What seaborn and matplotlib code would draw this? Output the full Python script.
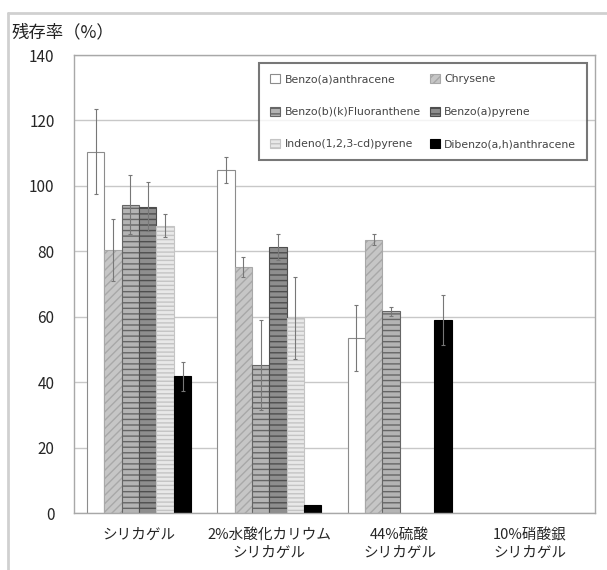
import numpy as np
import pandas as pd
import seaborn as sns
import matplotlib.pyplot as plt
from matplotlib.lines import Line2D

# categories and compounds
categories = ["シリカゲル", "2%水酸化カリウム\nシリカゲル", "44%硫酸\nシリカゲル", "10%硝酸銀\nシリカゲル"]
compounds = ["Benzo(a)anthracene", "Chrysene", "Benzo(b)(k)Fluoranthene",
             "Benzo(a)pyrene", "Indeno(1,2,3-cd)pyrene", "Dibenzo(a,h)anthracene"]

# remaining rate (%) per compound, one value per category
benzo_a_anth = [110.5, 104.8, 53.5, np.nan]
chrysene = [80.3, 75.2, 83.6, np.nan]
benzo_bk_fluor = [94.2, 45.3, 61.6, np.nan]
benzo_a_pyrene = [93.6, 81.4, np.nan, np.nan]
indeno_pyrene = [87.8, 59.6, np.nan, np.nan]
dibenzo_anth = [41.8, 2.4, 59.0, np.nan]

# error bar half widths
err_benzo_a_anth = [13.0, 4.0, 10.0, np.nan]
err_chrysene = [9.5, 3.0, 1.8, np.nan]
err_benzo_bk_fluor = [9.0, 13.7, 1.5, np.nan]
err_benzo_a_pyrene = [7.5, 4.0, np.nan, np.nan]
err_indeno_pyrene = [3.5, 12.5, np.nan, np.nan]
err_dibenzo_anth = [4.5, 0.0, 7.5, np.nan]

values = [benzo_a_anth, chrysene, benzo_bk_fluor, benzo_a_pyrene, indeno_pyrene, dibenzo_anth]
errors = [err_benzo_a_anth, err_chrysene, err_benzo_bk_fluor, err_benzo_a_pyrene,
          err_indeno_pyrene, err_dibenzo_anth]

rows = []
for comp, vals in zip(compounds, values):
    for cat, v in zip(categories, vals):
        rows.append({"category": cat, "compound": comp, "rate": v})
df = pd.DataFrame(rows)

sns.set_style("white")
plt.rcParams['font.family'] = ['Noto Sans CJK JP', 'DejaVu Sans']
plt.rcParams['hatch.linewidth'] = 1.0

fig = plt.figure(figsize=(6.07, 5.70), dpi=100)
ax = fig.add_axes([74/607, 57/570, 521/607, 458/570])

sns.barplot(data=df, x="category", y="rate", hue="compound", order=categories,
            hue_order=compounds, errorbar=None, width=0.8, legend=False, ax=ax)

# face, edge/hatch colour, hatch pattern per compound
faces = ["white", "#c6c6c6", "#b4b4b4", "#8e8e8e", "#e8e8e8", "black"]
edges = ["#8c8c8c", "#a8a8a8", "#666666", "#4e4e4e", "#c4c4c4", "black"]
hatches = [None, "////", "---", "---", "----", None]

bar_conts = list(ax.containers)
for j, cont in enumerate(bar_conts):
    for bar in cont.patches:
        bar.set_facecolor(faces[j])
        bar.set_edgecolor(edges[j])
        bar.set_linewidth(0.8)
        if hatches[j]:
            bar.set_hatch(hatches[j])
        h = bar.get_height()
        if np.isnan(h):
            continue
        xc = bar.get_x() + bar.get_width() / 2
        k = int(round(xc))
        e = errors[j][k]
        if e > 0:
            ax.errorbar(xc, h, yerr=e, fmt="none", ecolor="#777777", elinewidth=0.8,
                        capsize=1.5, capthick=0.8, zorder=4)

ax.set_ylim(0, 140)
ax.set_xlim(-0.5, 3.5)
ax.set_yticks(range(0, 141, 20))
ax.yaxis.grid(True, color="#c8c8c8", linewidth=1.0)
ax.set_axisbelow(True)
ax.set_xlabel("")
ax.set_ylabel("")
ax.tick_params(axis="y", length=0, pad=14, labelsize=11)
ax.tick_params(axis="x", length=0, pad=11, labelsize=10.5)
ax.set_xticks([0.5, 1.5, 2.5], minor=True)
ax.tick_params(axis="x", which="minor", direction="in", length=4, color="#999999")
for s in ax.spines.values():
    s.set_color("#a8a8a8")
    s.set_linewidth(1.0)
for lab in ax.get_xticklabels():
    lab.set_linespacing(1.3)

# legend filled row by row, as in the original
order = [0, 2, 4, 1, 3, 5]
leg = ax.legend(handles=[bar_conts[i] for i in order], labels=[compounds[i] for i in order],
                loc="upper right", bbox_to_anchor=(0.985, 0.982), ncol=2,
                prop={"family": "DejaVu Sans", "size": 7.8}, frameon=True, fancybox=False,
                borderaxespad=0, handlelength=0.9, handleheight=0.9, handletextpad=0.4,
                labelspacing=2.06, columnspacing=0.9, borderpad=1.0)
leg.get_frame().set_edgecolor("#555555")
leg.get_frame().set_linewidth(1.5)
for t in leg.get_texts():
    t.set_color("#444444")

fig.text(12/607, 1 - 32/570, "残存率（%）", fontsize=12.5, va="center", ha="left", color="#222222")

# outer frame of the chart area
fig.add_artist(Line2D([8/607, 1.0], [1 - 13/570, 1 - 13/570], transform=fig.transFigure,
                      color="#d0d0d0", linewidth=2))
fig.add_artist(Line2D([8/607, 8/607], [0.0, 1 - 13/570], transform=fig.transFigure,
                      color="#d0d0d0", linewidth=2))

plt.savefig("out.png", dpi=100)
